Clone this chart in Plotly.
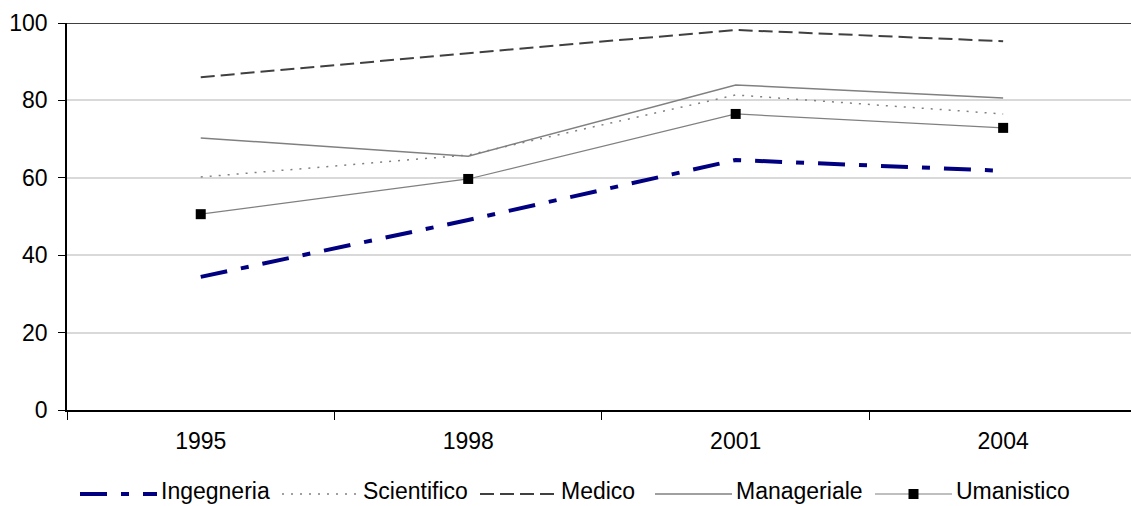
import plotly.graph_objects as go

years = ["1995", "1998", "2001", "2004"]
ingegneria = [34.4, 49.1, 64.6, 61.8]
scientifico = [60.2, 65.9, 81.4, 76.5]
medico = [86.0, 92.2, 98.2, 95.3]
manageriale = [70.3, 65.6, 84.0, 80.6]
umanistico = [50.6, 59.7, 76.5, 72.9]

FONT = "Liberation Sans, Arial, sans-serif"
W, H = 1131, 506
ML, MR, MT, MB = 67, 0, 23, 96
PW, PH = W - ML - MR, H - MT - MB

series = [
    dict(name="Ingegneria", y=ingegneria, color="#000080", width=4, dash="27px,14px,8px,14px", marker=False),
    dict(name="Scientifico", y=scientifico, color="#808080", width=1.5, dash="2px,7px", marker=False),
    dict(name="Medico", y=medico, color="#404040", width=2, dash="14px,6px", marker=False),
    dict(name="Manageriale", y=manageriale, color="#808080", width=1.5, dash="solid", marker=False),
    dict(name="Umanistico", y=umanistico, color="#808080", width=1.2, dash="solid", marker=True),
]

fig = go.Figure()
for s in series:
    fig.add_trace(go.Scatter(
        x=years, y=s["y"], name=s["name"],
        mode="lines+markers" if s["marker"] else "lines",
        line=dict(color=s["color"], width=s["width"], dash=s["dash"]),
        marker=dict(symbol="square", size=10, color="black"),
        showlegend=False))

fig.add_shape(type="line", xref="paper", yref="y", x0=0, x1=1, y0=100, y1=100,
              line=dict(color="black", width=1.5))

# manual legend (pixel layout)
def px_x(p):
    return (p - ML) / PW

def px_y(p):
    return (H - MB - p) / PH

leg_sym_start = [80, 282, 480, 655, 875]
sym_len = 77
line_y = 494
text_y = 491
for s, x0 in zip(series, leg_sym_start):
    fig.add_shape(type="line", xref="paper", yref="paper",
                  x0=px_x(x0), x1=px_x(x0 + sym_len), y0=px_y(line_y), y1=px_y(line_y),
                  line=dict(color=s["color"], width=s["width"], dash=s["dash"]))
    if s["marker"]:
        fig.add_shape(type="rect", xref="paper", yref="paper",
                      xsizemode="pixel", ysizemode="pixel",
                      xanchor=px_x(x0 + sym_len / 2), yanchor=px_y(line_y),
                      x0=-5, x1=5, y0=-5, y1=5,
                      fillcolor="black", line=dict(width=0))
    fig.add_annotation(xref="paper", yref="paper", x=px_x(x0 + sym_len + 3), y=px_y(text_y),
                       xanchor="left", yanchor="middle", text=s["name"], showarrow=False,
                       font=dict(family=FONT, size=23, color="black"), borderpad=0)

fig.update_layout(
    width=W, height=H,
    margin=dict(l=ML, r=MR, t=MT, b=MB),
    paper_bgcolor="white", plot_bgcolor="white",
    font=dict(family=FONT, size=23, color="black"),
    showlegend=False,
    xaxis=dict(type="category", range=[-0.5, 3.478], tickson="boundaries",
               ticks="outside", ticklen=8, tickcolor="black", showline=True,
               linecolor="black", linewidth=1.5, showgrid=False, zeroline=False,
               tickfont=dict(size=23), ticklabelstandoff=10),
    yaxis=dict(range=[0, 100], dtick=20, ticks="outside", ticklen=7, tickcolor="black",
               showline=True, linecolor="black", linewidth=1.5, showgrid=True,
               gridcolor="#D9D9D9", gridwidth=1.5, zeroline=False,
               tickfont=dict(size=23), ticklabelstandoff=6),
)

fig.write_html("out.html")
